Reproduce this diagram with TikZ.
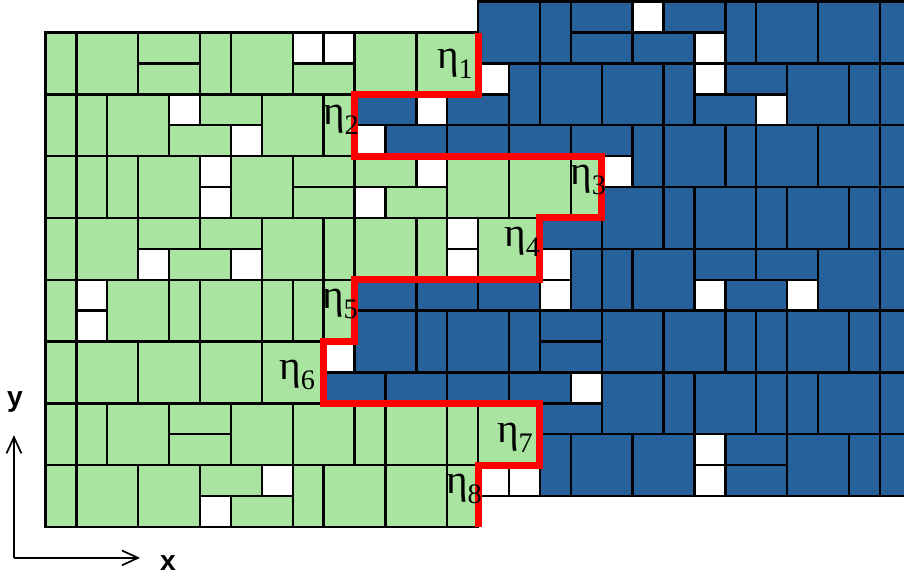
\documentclass[tikz,border=0pt]{standalone}
\usepackage{fontspec}
\usetikzlibrary{arrows.meta}
\newfontfamily\etafont{Liberation Serif}
\newfontfamily\axfont{Liberation Sans}
\definecolor{tilegreen}{RGB}{169,228,160}
\definecolor{tileblue}{RGB}{38,97,155}
\newcommand\etalab[1]{{\etafont\fontsize{19}{19}\selectfont η\raisebox{-4.5pt}{\fontsize{13}{13}\selectfont #1}}}
\tikzset{
 gtile/.style={fill=tilegreen, draw=black, line width=1.1pt},
 btile/.style={fill=tileblue, draw=black, line width=1.1pt},
 wtile/.style={fill=white, draw=black, line width=1.1pt},
 redline/.style={draw=red, line width=3.2pt, line join=miter},
 axis/.style={draw=black, line width=0.8pt, -{Straight Barb[length=2.6mm,width=2.4mm]}},
 etalabel/.style={inner sep=0pt},
 axlabel/.style={inner sep=0pt, font=\axfont\bfseries\fontsize{13}{13}\selectfont}
}
\begin{document}
\begin{tikzpicture}[x=0.5cm,y=-0.5cm]
\clip (-1.472,-1.052) rectangle (27.78,17.686);
% green tiles
\foreach \a/\b/\c/\d in {
 0/0/1/2, 1/0/3/2, 3/0/5/1, 3/1/5/2, 5/0/6/2, 6/0/8/2, 8/1/10/2, 10/0/12/2, 12/0/14/2,
 0/2/1/4, 1/2/2/4, 2/2/4/4, 5/2/7/3, 4/3/6/4, 7/2/9/4, 9/2/10/4,
 0/4/1/6, 1/4/2/6, 2/4/3/6, 3/4/5/6, 6/4/8/6, 8/4/10/5, 10/4/12/5, 8/5/10/6, 11/5/13/6, 13/4/15/6, 15/4/17/6, 17/4/18/6,
 0/6/1/8, 1/6/3/8, 3/6/5/7, 5/6/7/7, 4/7/6/8, 7/6/9/8, 9/6/10/8, 10/6/12/8, 12/6/13/8, 14/6/16/8,
 0/8/1/10, 2/8/4/10, 4/8/5/10, 5/8/7/10, 7/8/8/10, 8/8/9/10, 9/8/10/10,
 0/10/1/12, 1/10/3/12, 3/10/5/12, 5/10/7/12, 7/10/9/12,
 0/12/1/14, 1/12/2/14, 2/12/4/14, 4/12/6/13, 4/13/6/14, 6/12/8/14, 8/12/10/14, 10/12/11/14, 11/12/13/14, 13/12/14/14, 14/12/16/14,
 0/14/1/16, 1/14/3/16, 3/14/5/16, 5/14/7/15, 6/15/8/16, 8/14/9/16, 9/14/11/16, 11/14/13/16, 13/14/14/16}
 \draw[gtile] (\a,\b) rectangle (\c,\d);
% blue tiles
\foreach \a/\b/\c/\d in {
 14/-1/16/1, 16/-1/17/1, 17/-1/19/0, 17/0/19/1, 20/-1/22/0, 19/0/21/1, 22/-1/23/1, 23/-1/25/1, 25/-1/27/1, 27/-1/29/1,
 10/2/12/3, 13/2/15/3, 15/1/16/3, 16/1/18/3, 18/1/20/3, 20/1/21/3, 22/1/24/2, 21/2/23/3, 24/1/26/3, 26/1/27/3, 27/1/29/3,
 11/3/13/4, 13/3/15/4, 15/3/17/4, 17/3/19/4, 19/3/20/5, 20/3/22/5, 22/3/23/5, 23/3/25/5, 25/3/27/5, 27/3/29/5,
 16/6/18/7, 18/5/20/7, 20/5/21/7, 21/5/23/7, 23/5/24/7, 24/5/26/7, 26/5/27/7, 27/5/29/7,
 10/8/12/9, 12/8/14/9, 14/8/16/9, 17/7/18/9, 18/7/19/9, 19/7/21/9, 21/7/23/8, 23/7/25/8, 22/8/24/9, 25/7/27/9, 27/7/29/9,
 10/9/12/11, 12/9/13/11, 13/9/15/11, 15/9/16/11, 16/9/18/10, 16/10/18/11, 18/9/20/11, 20/9/22/11, 22/9/23/11, 23/9/24/11, 24/9/26/11, 26/9/27/11, 27/9/29/11,
 9/11/11/12, 11/11/13/12, 13/11/15/12, 15/11/17/12, 16/12/18/13, 18/11/20/13, 20/11/21/13, 21/11/23/13, 23/11/24/13, 24/11/25/13, 25/11/27/13, 27/11/29/13,
 16/13/17/15, 17/13/19/15, 19/13/21/15, 22/13/24/14, 22/14/24/15, 24/13/26/15, 26/13/27/15, 27/13/29/15}
 \draw[btile] (\a,\b) rectangle (\c,\d);
% empty cells
\foreach \a/\b in {
 8/0, 9/0, 4/2, 6/3, 5/4, 5/5, 12/4, 10/5, 3/7, 6/7, 13/6, 13/7, 1/8, 1/9, 7/14, 5/15,
 19/-1, 21/0, 12/2, 14/1, 21/1, 23/2, 10/3, 18/4, 16/7, 16/8, 21/8, 24/8, 9/10, 17/11,
 14/14, 15/14, 21/13, 21/14}
 \draw[wtile] (\a,\b) rectangle ++(1,1);
% boundary
\draw[redline] (14,0) -- (14,2) -- (10,2) -- (10,4) -- (18,4) -- (18,6) -- (16,6) -- (16,8)
 -- (10,8) -- (10,10) -- (9,10) -- (9,12) -- (16,12) -- (16,14) -- (14,14) -- (14,16);
% labels
\node[etalabel] (eta1) at (13.25,1.02) {\etalab{1}};
\node[etalabel] (eta2) at (9.56,2.83) {\etalab{2}};
\node[etalabel] (eta3) at (17.56,4.77) {\etalab{3}};
\node[etalabel] (eta4) at (15.42,6.78) {\etalab{4}};
\node[etalabel] (eta5) at (9.53,8.79) {\etalab{5}};
\node[etalabel] (eta6) at (8.14,11.08) {\etalab{6}};
\node[etalabel] (eta7) at (15.19,13.12) {\etalab{7}};
\node[etalabel] (eta8) at (13.54,14.77) {\etalab{8}};
% axes
\coordinate (O) at (-1.02,17.0);
\coordinate (Ytip) at (-1.02,13.03);
\coordinate (Xtip) at (3.06,17.0);
\draw[axis] (O) -- (Ytip);
\draw[axis] (O) -- (Xtip);
\node[axlabel] (ylab) at (-0.99,11.96) {y};
\node[axlabel] (xlab) at (3.96,17.17) {x};
\end{tikzpicture}
\end{document}
